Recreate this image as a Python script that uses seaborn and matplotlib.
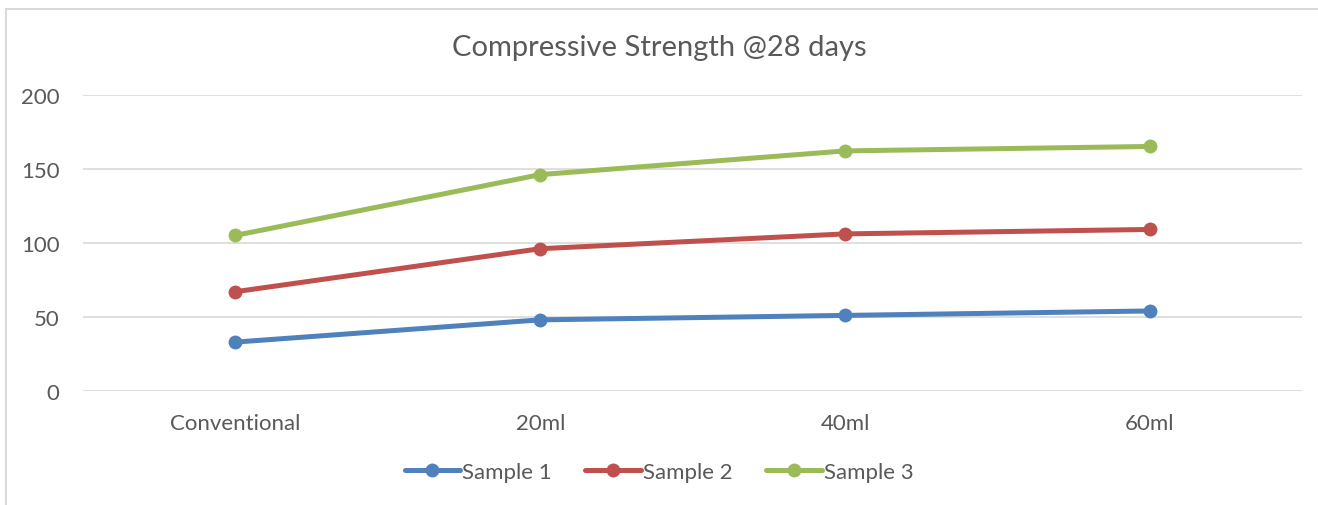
import pandas as pd
import matplotlib.pyplot as plt
import seaborn as sns
from matplotlib.patches import Rectangle

# Data
categories = ["Conventional", "20ml", "40ml", "60ml"]
sample_1 = [33, 48, 51, 54]
sample_2 = [67, 96, 106, 109]
sample_3 = [105, 146, 162, 165]
series_names = ["Sample 1", "Sample 2", "Sample 3"]

df = pd.DataFrame({
    "cat": categories * 3,
    "value": sample_1 + sample_2 + sample_3,
    "series": [s for s in series_names for _ in categories],
})
df["x"] = df["cat"].map({c: i for i, c in enumerate(categories)})

sns.set_theme(style="white")
plt.rcParams["font.family"] = ["Lato", "DejaVu Sans"]
text_color = "#595959"
palette = {"Sample 1": "#4F81BD", "Sample 2": "#C0504D", "Sample 3": "#9BBB59"}

fig = plt.figure(figsize=(13.18, 5.06), dpi=100)
ax = fig.add_axes([0.063, 0.2253, 0.925, 0.5858])

sns.lineplot(data=df, x="x", y="value", hue="series", palette=palette,
             marker="o", markersize=10, markeredgewidth=0, linewidth=3.6,
             ax=ax, legend=True)

ax.set_xlim(-0.5, 3.5)
ax.set_ylim(0, 200)
ax.set_yticks([0, 50, 100, 150, 200])
ax.set_xticks(range(len(categories)))
ax.set_xticklabels(categories)
ax.set_xlabel("")
ax.set_ylabel("")
ax.grid(axis="y", color="#D9D9D9", linewidth=1.2)
ax.set_axisbelow(True)
for s in ax.spines.values():
    s.set_visible(False)
ax.tick_params(axis="both", colors=text_color, labelsize=16, length=0)
ax.tick_params(axis="x", pad=16)
ax.tick_params(axis="y", pad=17)

fig.suptitle("Compressive Strength @28 days", y=0.93, fontsize=21, color=text_color)

handles, labels = ax.get_legend_handles_labels()
ax.legend_.remove()
fig.legend(handles, labels, loc="center", bbox_to_anchor=(0.5, 0.065), ncol=3,
           frameon=False, fontsize=16, labelcolor=text_color, handlelength=2.5,
           handletextpad=0.1, columnspacing=1.5)

fig.add_artist(Rectangle((6 / 1318, -0.05), 1.0, 1.05 - 10 / 506,
                         transform=fig.transFigure, fill=False,
                         edgecolor="#D9D9D9", linewidth=1.5))

fig.savefig("out.png", dpi=100)
